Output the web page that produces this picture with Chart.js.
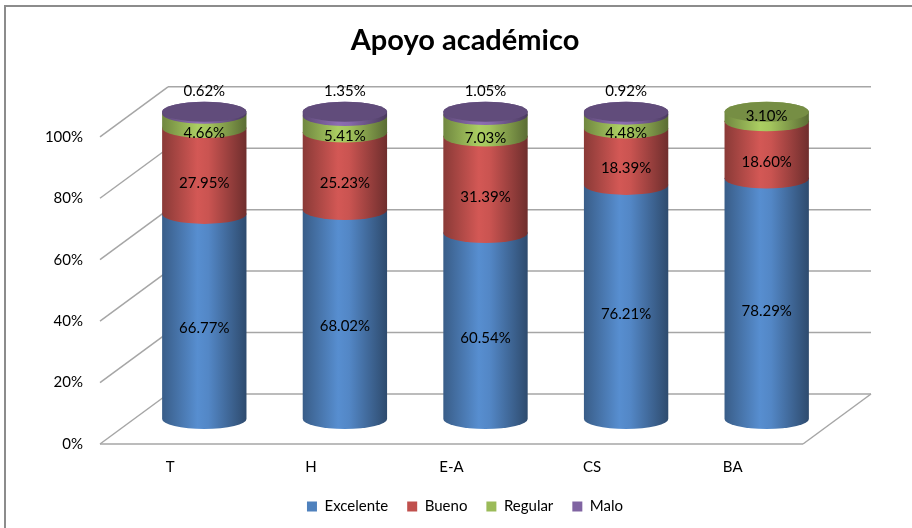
<!DOCTYPE html>
<html>
<head>
<meta charset="utf-8">
<script src="https://cdn.jsdelivr.net/npm/chart.js@4.4.0/dist/chart.umd.min.js"></script>
<style>
  body { margin: 0; background: #fff; }
</style>
</head>
<body>
<canvas id="myChart" width="912" height="528"></canvas>
<script>
// data
categories = ['T', 'H', 'E-A', 'CS', 'BA']
excelente = [66.77, 68.02, 60.54, 76.21, 78.29]
bueno = [27.95, 25.23, 31.39, 18.39, 18.60]
regular = [4.66, 5.41, 7.03, 4.48, 3.10]
malo = [0.62, 1.35, 1.05, 0.92, 0]
yTicks = [0, 20, 40, 60, 80, 100]

seriesNames = ['Excelente', 'Bueno', 'Regular', 'Malo']
seriesColors = ['#4F81BD', '#C0504D', '#9BBB59', '#8064A2']

// 3D look: depth of the box (back wall offset), cylinders sit half way in
var depthX = 68
var depthY = -50
var ry = 10

function shade(hex, f)
{
    var n = parseInt(hex.slice(1), 16)
    var r = Math.min(255, Math.round(((n >> 16) & 255) * f))
    var g = Math.min(255, Math.round(((n >> 8) & 255) * f))
    var b = Math.min(255, Math.round((n & 255) * f))
    return 'rgb(' + r + ',' + g + ',' + b + ')'
}

function line(ctx, x1, y1, x2, y2)
{
    ctx.beginPath()
    ctx.moveTo(x1, y1)
    ctx.lineTo(x2, y2)
    ctx.stroke()
}

var cylinderPlugin = {
    id: 'cylinders',
    beforeDraw: function(chart) {
        var ctx = chart.ctx
        ctx.save()
        ctx.fillStyle = '#fff'
        ctx.fillRect(0, 0, chart.width, chart.height)
        ctx.strokeStyle = '#8c8c8c'
        ctx.lineWidth = 2
        ctx.strokeRect(5, 6, 940, 560)
        ctx.restore()
    },
    beforeDatasetsDraw: function(chart) {
        var ctx = chart.ctx
        var a = chart.chartArea
        var ys = chart.scales.y
        ctx.save()

        // walls and floor
        ctx.strokeStyle = '#a6a6a6'
        ctx.lineWidth = 1.5
        yTicks.forEach(function(v) {
            var py = ys.getPixelForValue(v)
            line(ctx, a.left, py, a.left + depthX, py + depthY)
            line(ctx, a.left + depthX, py + depthY, a.right + depthX, py + depthY)
        })
        var p0 = ys.getPixelForValue(0)
        line(ctx, a.left, p0, a.right, p0)
        line(ctx, a.right, p0, a.right + depthX, p0 + depthY)

        // cylinders
        var metas = chart.data.datasets.map(function(ds, d) { return chart.getDatasetMeta(d) })
        var labels = []
        for (var i = 0; i < categories.length; i++)
        {
            var topIdx = -1
            for (var d = 0; d < metas.length; d++)
            {
                if (chart.data.datasets[d].data[i] > 0) topIdx = d
            }
            var topY = 0, cx = 0, r = 0
            for (var d = 0; d < metas.length; d++)
            {
                var val = chart.data.datasets[d].data[i]
                if (!(val > 0)) continue
                var bar = metas[d].data[i]
                cx = bar.x + depthX / 2
                r = bar.width / 2
                var yt = bar.y + depthY / 2
                var yb = bar.base + depthY / 2
                var col = seriesColors[d]
                var grad = ctx.createLinearGradient(cx - r, 0, cx + r, 0)
                grad.addColorStop(0, shade(col, 0.72))
                grad.addColorStop(0.42, shade(col, 1.1))
                grad.addColorStop(0.55, shade(col, 1.05))
                grad.addColorStop(1, shade(col, 0.58))
                ctx.fillStyle = grad
                ctx.beginPath()
                ctx.moveTo(cx - r, yt)
                ctx.lineTo(cx - r, yb)
                ctx.ellipse(cx, yb, r, ry, 0, Math.PI, 0, true)
                ctx.lineTo(cx + r, yt)
                ctx.ellipse(cx, yt, r, ry, 0, 0, -Math.PI, true)
                ctx.closePath()
                ctx.fill()
                topY = yt

                var ly
                if (d === metas.length - 1) ly = yt - 21
                else if (d === topIdx) ly = (yt + yb) / 2
                else ly = (yt + yb) / 2 + 12
                labels.push({ x: cx, y: ly, text: val.toFixed(2) + '%' })
            }
            if (topIdx >= 0)
            {
                ctx.fillStyle = shade(seriesColors[topIdx], 0.76)
                ctx.beginPath()
                ctx.ellipse(cx, topY, r, ry, 0, 0, Math.PI * 2)
                ctx.fill()
            }
        }

        ctx.fillStyle = '#000'
        ctx.font = '15px Lato'
        ctx.textAlign = 'center'
        ctx.textBaseline = 'middle'
        labels.forEach(function(l) { ctx.fillText(l.text, l.x, l.y) })

        ctx.restore()
        return false
    }
}

var ctx = document.getElementById('myChart').getContext('2d')
var myChart = new Chart(ctx, {
    type: 'bar',
    data: {
        labels: categories,
        datasets: [
            { label: seriesNames[0], data: excelente, backgroundColor: seriesColors[0] },
            { label: seriesNames[1], data: bueno, backgroundColor: seriesColors[1] },
            { label: seriesNames[2], data: regular, backgroundColor: seriesColors[2] },
            { label: seriesNames[3], data: malo, backgroundColor: seriesColors[3] }
        ]
    },
    options: {
        responsive: false,
        devicePixelRatio: 1,
        animation: false,
        categoryPercentage: 1,
        barPercentage: 0.6,
        layout: { padding: { top: 18, left: 18, right: 0, bottom: 4 } },
        scales: {
            x: {
                stacked: true,
                grid: { display: false, drawTicks: false },
                border: { display: false },
                ticks: { color: '#000', font: { family: 'Lato', size: 15 }, padding: 14 },
                afterFit: function(s) { s.height = 36 }
            },
            y: {
                stacked: true,
                min: 0,
                max: 100,
                grid: { display: false, drawTicks: false },
                border: { display: false },
                ticks: {
                    stepSize: 20,
                    color: '#000',
                    font: { family: 'Lato', size: 15 },
                    padding: 17,
                    callback: function(v) { return v + '%' }
                },
                afterFit: function(s) { s.width = 82 }
            },
            y2: {
                position: 'right',
                display: true,
                grid: { display: false, drawTicks: false },
                border: { display: false },
                ticks: { display: false },
                afterFit: function(s) { s.width = 109 }
            }
        },
        plugins: {
            title: {
                display: true,
                text: 'Apoyo académico',
                color: '#000',
                font: { family: 'Lato', size: 29, weight: 'bold' },
                padding: { top: 5, bottom: 79 }
            },
            legend: {
                display: true,
                position: 'bottom',
                labels: {
                    color: '#000',
                    font: { family: 'Lato', size: 15 },
                    boxWidth: 10,
                    boxHeight: 10,
                    padding: 19
                }
            },
            tooltip: { enabled: false }
        }
    },
    plugins: [cylinderPlugin]
});
</script>
</body>
</html>
